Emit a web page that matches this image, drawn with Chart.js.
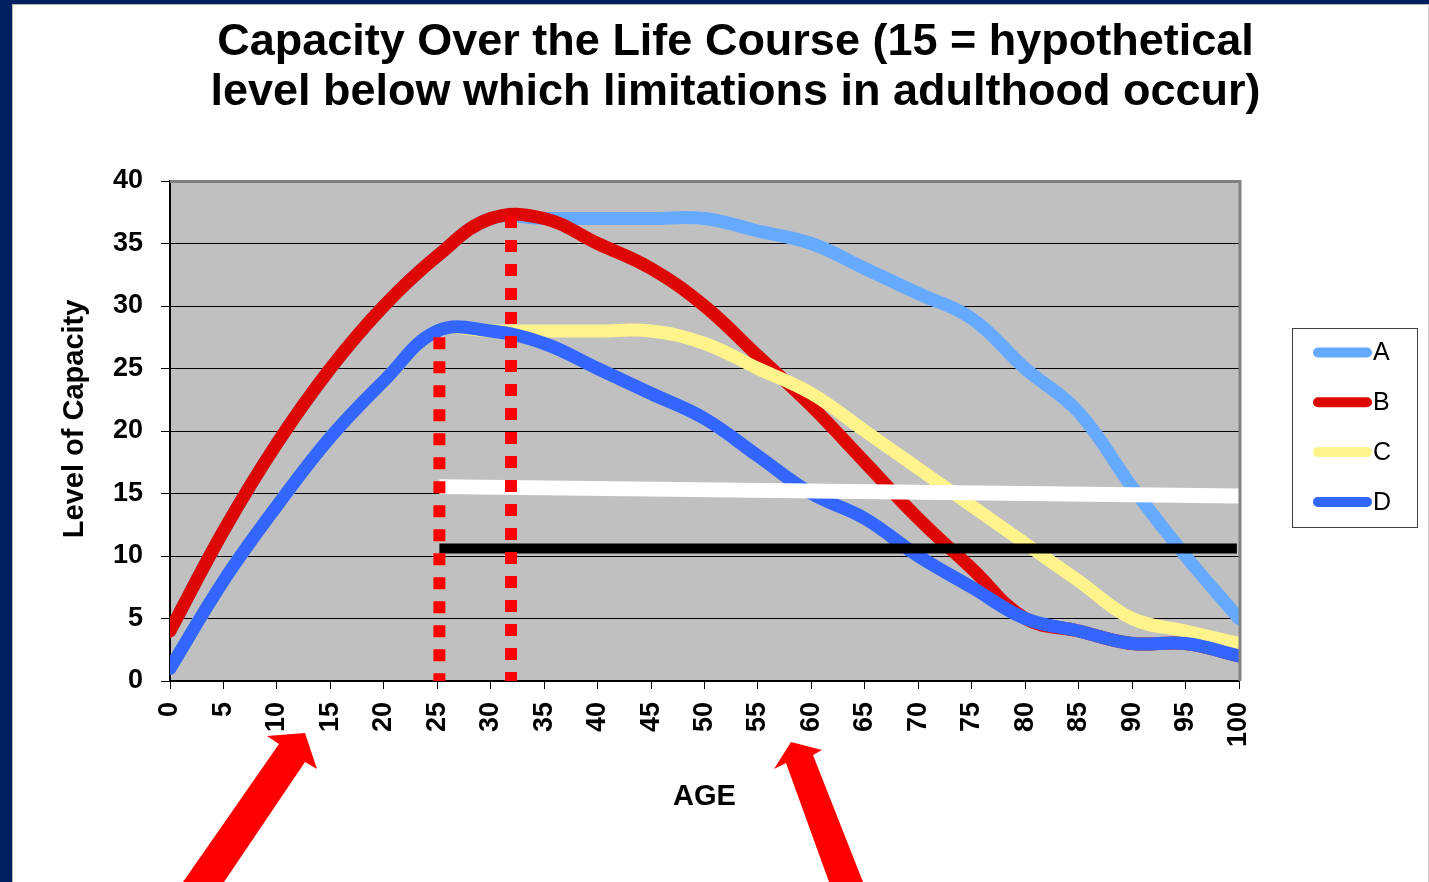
<!DOCTYPE html>
<html>
<head>
<meta charset="utf-8">
<title>Capacity Over the Life Course</title>
<script src="https://cdn.jsdelivr.net/npm/chart.js@4/dist/chart.umd.min.js"></script>
<style>
  html, body { margin: 0; padding: 0; width: 1429px; height: 882px; overflow: hidden; background: #002060; }
  #sheet { position: absolute; left: 12px; top: 4px; width: 1415px; height: 877px; background: #fff;
           border-left: 1px solid #b4b4b4; border-top: 1px solid #b4b4b4; border-right: 1px solid #d0d0d0; }
  #chart { position: absolute; left: 0; top: 0; }
</style>
</head>
<body>
<div id="sheet"></div>
<canvas id="chart" width="1429" height="882"></canvas>
<script>
// ages on the x axis (every 5 years)
const ages = [0, 5, 10, 15, 20, 25, 30, 35, 40, 45, 50, 55, 60, 65, 70, 75, 80, 85, 90, 95, 100];

// capacity curves
const seriesNames = ["A", "B", "C", "D"];
const capacityA = [4, 12, 19, 25, 30, 34, 37, 37, 37, 37, 37, 36, 35, 33, 31, 29, 25, 21.5, 15.5, 10, 5];
const capacityB = [4, 12, 19, 25, 30, 34, 37, 37, 35, 33, 30, 26, 22, 17.5, 13, 9, 5, 4, 3, 3, 2];
const capacityC = [1, 8, 14, 19.5, 24, 28, 28, 28, 28, 28, 27, 25, 23, 20, 17, 14, 11, 8, 5, 4, 3];
const capacityD = [1, 8, 14, 19.5, 24, 28, 28, 27, 25, 23, 21, 18, 15, 13, 10, 7.5, 5, 4, 3, 3, 2];

// drawn-on markers: threshold line, lower line and the two peak ages
const thresholdAges = [25.2, 100];
const thresholdLevels = [15.55, 14.8];
const lowerLineAges = [25.2, 99.8];
const lowerLineLevels = [10.6, 10.6];
const peakAges = [25.2, 31.9];
const peakLevels = [27.5, 37.2];

const yTicks = { min: 0, max: 40, step: 5 };
const xTicks = { min: 0, max: 100, step: 5 };

const seriesColors = ["#66aaff", "#dd0806", "#fff38c", "#3366ff"];
const FONT = '"Liberation Sans", Arial, Helvetica, sans-serif';

const toPoints = (xs, ys) => xs.map((x, i) => ({ x: x, y: ys[i] }));

const curveDataset = (i, values, order) => ({
  label: seriesNames[i],
  data: toPoints(ages, values),
  borderColor: seriesColors[i],
  backgroundColor: seriesColors[i],
  borderWidth: 13,
  borderCapStyle: "round",
  borderJoinStyle: "round",
  tension: 0.4,
  pointRadius: 0,
  order: order,
});

const peakDataset = (k) => ({
  label: "peak" + k,
  data: [{ x: peakAges[k], y: peakLevels[k] }, { x: peakAges[k], y: -0.45 }],
  borderColor: "#ff0000",
  borderWidth: 12,
  borderDash: [12, 12],
  borderCapStyle: "butt",
  pointRadius: 0,
  order: 0,
});

// plot background + grey top/right frame
const plotFrame = {
  id: "plotFrame",
  beforeDraw(chart) {
    const { ctx, chartArea: a } = chart;
    ctx.save();
    ctx.fillStyle = "#c0c0c0";
    ctx.fillRect(a.left, a.top, a.right - a.left, a.bottom - a.top);
    ctx.restore();
  },
  afterDraw(chart) {
    const { ctx, chartArea: a } = chart;
    ctx.save();
    ctx.strokeStyle = "#808080";
    ctx.lineWidth = 3;
    ctx.beginPath();
    ctx.moveTo(a.left, a.top + 0.5);
    ctx.lineTo(a.right + 1, a.top + 0.5);
    ctx.lineTo(a.right + 1, a.bottom);
    ctx.stroke();
    ctx.restore();
  },
};

// boxed legend to the right of the plot
const boxLegend = {
  id: "boxLegend",
  afterDraw(chart) {
    const { ctx, chartArea: a } = chart;
    const left = a.right + 53;
    const top = (a.top + a.bottom) / 2 - 103;
    ctx.save();
    ctx.strokeStyle = "#404040";
    ctx.lineWidth = 1;
    ctx.strokeRect(left + 0.5, top + 0.5, 125, 199);
    ctx.font = "25px " + FONT;
    ctx.textBaseline = "middle";
    seriesNames.forEach((name, i) => {
      const y = top + 24.5 + i * 49.8;
      ctx.strokeStyle = seriesColors[i];
      ctx.lineWidth = 10;
      ctx.lineCap = "round";
      ctx.beginPath();
      ctx.moveTo(left + 26, y);
      ctx.lineTo(left + 75, y);
      ctx.stroke();
      ctx.fillStyle = "#000";
      ctx.fillText(name, left + 81, y + 1);
    });
    ctx.restore();
  },
};

// the two red block arrows under the axis
const arrows = {
  id: "arrows",
  afterDraw(chart) {
    const ctx = chart.ctx;
    const shapes = [
      [[183, 882], [279, 744], [267, 736], [305, 733], [317, 769], [305, 762], [224, 882]],
      [[829, 882], [786, 763], [774, 769], [791, 742], [822, 750], [813, 755], [863, 882]],
    ];
    ctx.save();
    ctx.fillStyle = "#ff0000";
    shapes.forEach((pts) => {
      ctx.beginPath();
      pts.forEach((p, i) => (i ? ctx.lineTo(p[0], p[1]) : ctx.moveTo(p[0], p[1])));
      ctx.closePath();
      ctx.fill();
    });
    ctx.restore();
  },
};

new Chart(document.getElementById("chart"), {
  type: "line",
  data: {
    datasets: [
      curveDataset(0, capacityA, 6),
      curveDataset(1, capacityB, 5),
      curveDataset(2, capacityC, 4),
      curveDataset(3, capacityD, 3),
      {
        label: "lower",
        data: toPoints(lowerLineAges, lowerLineLevels),
        borderColor: "#000000",
        borderWidth: 10,
        borderCapStyle: "butt",
        pointRadius: 0,
        order: 2,
      },
      {
        label: "threshold",
        data: toPoints(thresholdAges, thresholdLevels),
        borderColor: "#ffffff",
        borderWidth: 15,
        borderCapStyle: "butt",
        pointRadius: 0,
        order: 1,
      },
      peakDataset(0),
      peakDataset(1),
    ],
  },
  options: {
    responsive: false,
    animation: false,
    events: [],
    layout: { padding: { left: 54, right: 12, top: 0, bottom: 63.6 } },
    plugins: {
      legend: { display: false },
      tooltip: { enabled: false },
      title: {
        display: true,
        text: ["Capacity Over the Life Course (15 = hypothetical", "level below which limitations in adulthood occur)"],
        color: "#000",
        font: { family: FONT, size: 45, weight: "bold", lineHeight: 50 / 45 },
        padding: { top: 18, bottom: 63 },
      },
    },
    scales: {
      x: {
        type: "linear",
        min: xTicks.min,
        max: xTicks.max,
        ticks: {
          stepSize: xTicks.step,
          autoSkip: false,
          minRotation: 90,
          maxRotation: 90,
          padding: 13,
          color: "#000",
          font: { family: FONT, size: 27, weight: "bold" },
        },
        grid: { drawOnChartArea: false, drawTicks: true, tickLength: 8, color: "#000", lineWidth: 1 },
        border: { color: "#000", width: 2 },
        title: {
          display: true,
          text: "AGE",
          color: "#000",
          font: { family: FONT, size: 29, weight: "bold" },
          padding: { top: 4, bottom: 4 },
        },
        afterFit(scale) { scale.height = 137.4; },
      },
      y: {
        min: yTicks.min,
        max: yTicks.max,
        ticks: {
          stepSize: yTicks.step,
          padding: 18,
          color: "#000",
          font: { family: FONT, size: 27, weight: "bold" },
        },
        grid: { color: "#000", lineWidth: 1, drawTicks: true, tickLength: 9 },
        border: { color: "#000", width: 2 },
        title: {
          display: true,
          text: "   Level of Capacity",
          color: "#000",
          font: { family: FONT, size: 29, weight: "bold" },
          padding: { top: 4, bottom: 4 },
        },
        afterFit(scale) { scale.width = 116; },
      },
      y2: {
        position: "right",
        display: true,
        ticks: { display: false },
        grid: { display: false, drawTicks: false },
        border: { display: false },
        afterFit(scale) { scale.width = 178; },
      },
    },
  },
  plugins: [plotFrame, boxLegend, arrows],
});
</script>
</body>
</html>
